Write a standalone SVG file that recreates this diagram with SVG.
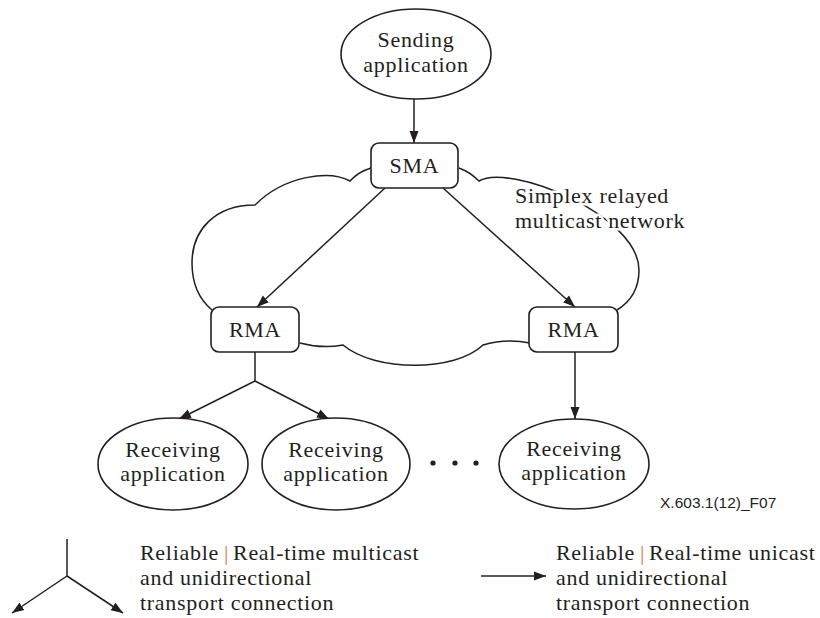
<svg xmlns="http://www.w3.org/2000/svg" width="820" height="618" viewBox="0 0 820 618">
<style>
  .ln{fill:none;stroke:#231f20;stroke-width:1.5}
  .box{fill:#fff;stroke:#231f20;stroke-width:1.6}
  .t{font-family:"Liberation Serif","Times New Roman",serif;font-size:22px;fill:#231f20;letter-spacing:0.7px}
  .c{text-anchor:middle}
  .halo{stroke:#fff;stroke-width:5;paint-order:stroke;stroke-linejoin:round}
  .ref{font-family:"Liberation Sans",Arial,sans-serif;font-size:15.5px;fill:#231f20}
  .bar{fill:#e8734a}
</style>
<defs>
  <marker id="ah" markerUnits="userSpaceOnUse" markerWidth="13" markerHeight="10" refX="12" refY="5" orient="auto">
    <path d="M0,0.5 L12,5 L0,9.5 z" fill="#231f20"/>
  </marker>
</defs>
<rect width="820" height="618" fill="#fff"/>

<g id="cloud">
  <path class="ln" d="M371,168 Q358,172 350,181 C330,170 285,175 255,205 C215,205 192,230 192,263 C192,285 200,300 212,310
     M300,343 Q322,349 343,345 C375,372 455,372 483,345 Q506,338 530,343
     M459,168 Q470,172 479,181 C510,163 639,215 639,270 C639,290 630,302 617,310"/>
  <text class="t halo" x="515" y="203">Simplex relayed</text>
  <text class="t halo" x="515" y="228">multicast network</text>
</g>

<g id="connectors">
  <path class="ln" d="M414,99 L414,143" marker-end="url(#ah)"/>
  <path class="ln" d="M385,188 L257,307" marker-end="url(#ah)"/>
  <path class="ln" d="M443,188 L575,307" marker-end="url(#ah)"/>
  <path class="ln" d="M255,352 L255,381"/>
  <path class="ln" d="M255,381 L179,419" marker-end="url(#ah)"/>
  <path class="ln" d="M255,381 L329,419" marker-end="url(#ah)"/>
  <path class="ln" d="M575,352 L575,419" marker-end="url(#ah)"/>
</g>

<g id="sending">
  <ellipse class="box" cx="416" cy="54" rx="75" ry="45"/>
  <text class="t c" x="416" y="47">Sending</text>
  <text class="t c" x="416" y="72">application</text>
</g>

<g id="sma">
  <rect class="box" x="371" y="143" width="87" height="45" rx="8"/>
  <text class="t c" x="414.5" y="173">SMA</text>
</g>

<g id="rma-left">
  <rect class="box" x="211" y="307" width="88" height="45" rx="8"/>
  <text class="t c" x="255" y="337">RMA</text>
</g>

<g id="rma-right">
  <rect class="box" x="529" y="307" width="89" height="45" rx="8"/>
  <text class="t c" x="573.5" y="337">RMA</text>
</g>

<g id="recv-1">
  <ellipse class="box" cx="173" cy="464" rx="75" ry="46"/>
  <text class="t c" x="173" y="457">Receiving</text>
  <text class="t c" x="173" y="481">application</text>
</g>

<g id="recv-2">
  <ellipse class="box" cx="336" cy="464" rx="74" ry="46"/>
  <text class="t c" x="336" y="457">Receiving</text>
  <text class="t c" x="336" y="481">application</text>
</g>

<g id="dots" fill="#231f20">
  <circle cx="433" cy="463" r="2.6"/>
  <circle cx="455" cy="463" r="2.6"/>
  <circle cx="476" cy="463" r="2.6"/>
</g>

<g id="recv-3">
  <ellipse class="box" cx="574" cy="464" rx="75" ry="45"/>
  <text class="t c" x="574" y="456">Receiving</text>
  <text class="t c" x="574" y="480">application</text>
</g>

<text class="ref" x="660" y="508">X.603.1(12)_F07</text>

<g id="legend-multicast">
  <path class="ln" d="M67,539 L67,576"/>
  <path class="ln" d="M67,576 L12,613" marker-end="url(#ah)"/>
  <path class="ln" d="M67,576 L123,613" marker-end="url(#ah)"/>
  <text class="t" x="140" y="560">Reliable<tspan class="bar" dx="5">|</tspan><tspan dx="4">Real-time multicast</tspan></text>
  <text class="t" x="140" y="585">and unidirectional</text>
  <text class="t" x="140" y="610">transport connection</text>
</g>

<g id="legend-unicast">
  <path class="ln" d="M481,576 L546,576" marker-end="url(#ah)"/>
  <text class="t" x="556" y="560">Reliable<tspan class="bar" dx="5">|</tspan><tspan dx="4">Real-time unicast</tspan></text>
  <text class="t" x="556" y="585">and unidirectional</text>
  <text class="t" x="556" y="610">transport connection</text>
</g>
</svg>
